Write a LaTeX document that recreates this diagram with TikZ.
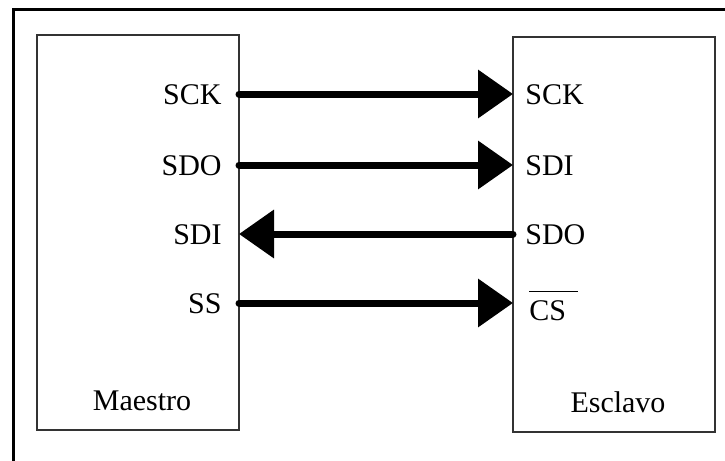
\documentclass[tikz,border=0pt]{standalone}
\usepackage{fontspec}
\setmainfont{Liberation Serif}
\usetikzlibrary{arrows.meta}

\begin{document}
\begin{tikzpicture}[x=0.5pt,y=-0.5pt]
\useasboundingbox (0,0) rectangle (725,461);
\clip (0,0) rectangle (725,461);
\tikzset{
  box/.style={draw=black!80, line width=1pt},
  signal/.style={line width=3.5pt, line cap=round,
    -{Triangle[length=17.5pt,width=23.5pt]}},
  pin/.style={font=\fontsize{15}{18}\selectfont, inner sep=0pt}
}
% frame round the whole figure
\draw [line width=1.5pt] (13,9) rectangle (745,485);

% master and slave
\draw [box] (37,35) rectangle (239,430);
\draw [box] (513,37) rectangle (715,432);

\coordinate (A) at (239,94);
\coordinate (B) at (513,94);
\coordinate (C) at (239,165);
\coordinate (D) at (513,165);
\coordinate (E) at (239,234);
\coordinate (F) at (513,234);
\coordinate (G) at (239,303);
\coordinate (H) at (513,303);

\draw [signal] (A) -- (B);
\draw [signal] (C) -- (D);
\draw [signal] (F) -- (E);
\draw [signal] (G) -- (H);

\node [pin, anchor=base east] (msck) at (222,104) {SCK};
\node [pin, anchor=base east] (msdo) at (222,175) {SDO};
\node [pin, anchor=base east] (msdi) at (222,244) {SDI};
\node [pin, anchor=base east] (mss) at (222,313) {SS};

\node [pin, anchor=base west] (ssck) at (525,104) {SCK};
\node [pin, anchor=base west] (ssdi) at (525,175) {SDI};
\node [pin, anchor=base west] (ssdo) at (525,244) {SDO};
\node [pin, anchor=base west] (scs) at (529,320)
  {$\overline{\rule{0pt}{13pt}\mbox{CS}\hspace{6pt}}$};

\node [pin, anchor=base] (master) at (142,410) {Maestro};
\node [pin, anchor=base] (slave) at (618,412) {Esclavo};

\end{tikzpicture}
\end{document}
